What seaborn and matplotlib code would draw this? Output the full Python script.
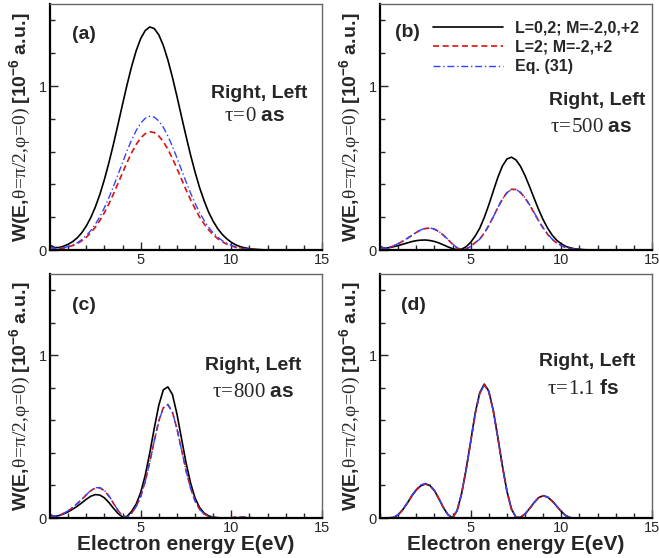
import matplotlib
matplotlib.use('Agg')
from matplotlib import pyplot as plt
from matplotlib.ticker import MultipleLocator
import seaborn as sns

# electron energy grid (eV)
energy = [0.0, 0.25, 0.5, 0.75, 1.0, 1.25, 1.5, 1.75, 2.0, 2.25, 2.5, 2.75, 3.0, 3.25, 3.5, 3.75, 4.0,
          4.25, 4.5, 4.75, 5.0, 5.25, 5.5, 5.75, 6.0, 6.25, 6.5,
          6.75, 7.0, 7.25, 7.5, 7.75, 8.0, 8.25, 8.5, 8.75, 9.0,
          9.25, 9.5, 9.75, 10.0, 10.25, 10.5, 10.75, 11.0, 11.25, 11.5, 11.75, 12.0]

# (a) tau = 0 as
a_full = [0.030, 0.015, 0.015, 0.023, 0.035, 0.051, 0.074, 0.105, 0.146, 0.198, 0.262, 0.339, 0.430, 0.533, 0.646, 0.766, 0.888,
          1.008, 1.119, 1.214, 1.289, 1.338, 1.360, 1.350, 1.312, 1.247, 1.159,
          1.054, 0.937, 0.815, 0.695, 0.580, 0.475, 0.380, 0.300, 0.230, 0.175,
          0.130, 0.095, 0.068, 0.047, 0.031, 0.020, 0.013, 0.008, 0.005, 0.003, 0.001, 0.000]
a_l2 = [0.018, 0.008, 0.008, 0.012, 0.019, 0.027, 0.039, 0.056, 0.077, 0.105, 0.139, 0.180, 0.228, 0.282, 0.342, 0.406, 0.471,
        0.534, 0.593, 0.643, 0.683, 0.709, 0.721, 0.716, 0.695, 0.661, 0.614,
        0.559, 0.497, 0.432, 0.368, 0.307, 0.252, 0.201, 0.159, 0.122, 0.093,
        0.069, 0.050, 0.036, 0.025, 0.016, 0.011, 0.007, 0.004, 0.003, 0.002, 0.001, 0.000]
a_eq = [0.022, 0.010, 0.009, 0.014, 0.021, 0.031, 0.044, 0.063, 0.088, 0.119, 0.157, 0.203, 0.258, 0.320, 0.388, 0.460, 0.533,
        0.605, 0.671, 0.728, 0.773, 0.803, 0.816, 0.810, 0.787, 0.748, 0.695,
        0.632, 0.562, 0.489, 0.417, 0.348, 0.285, 0.228, 0.180, 0.138, 0.105,
        0.078, 0.057, 0.041, 0.028, 0.019, 0.012, 0.008, 0.005, 0.003, 0.002, 0.001, 0.000]

# (b) tau = 500 as
b_full = [0.020, 0.012, 0.014, 0.020, 0.027, 0.035, 0.043, 0.051, 0.057, 0.060, 0.061, 0.058, 0.052, 0.043, 0.031, 0.019, 0.008,
          0.002, 0.005, 0.020, 0.047, 0.085, 0.133, 0.198, 0.275, 0.360, 0.443,
          0.512, 0.555, 0.566, 0.549, 0.510, 0.453, 0.386, 0.315, 0.246, 0.184,
          0.132, 0.090, 0.059, 0.037, 0.022, 0.013, 0.007, 0.004, 0.002, 0.001, 0.000, 0.000]
b_l2 = [0.015, 0.010, 0.015, 0.025, 0.038, 0.053, 0.070, 0.088, 0.107, 0.122, 0.131, 0.133, 0.127, 0.112, 0.090, 0.063, 0.036,
        0.013, 0.001, 0.006, 0.022, 0.045, 0.067, 0.103, 0.150, 0.203, 0.259,
        0.311, 0.350, 0.370, 0.369, 0.350, 0.317, 0.274, 0.226, 0.177, 0.133,
        0.095, 0.065, 0.042, 0.026, 0.015, 0.008, 0.004, 0.002, 0.001, 0.000, 0.000, 0.000]
b_eq = [0.016, 0.011, 0.016, 0.026, 0.039, 0.054, 0.071, 0.089, 0.108, 0.123, 0.132, 0.134, 0.128, 0.113, 0.091, 0.064, 0.037,
        0.014, 0.002, 0.005, 0.021, 0.044, 0.066, 0.102, 0.149, 0.202, 0.258,
        0.310, 0.349, 0.369, 0.369, 0.351, 0.318, 0.276, 0.228, 0.179, 0.135,
        0.097, 0.066, 0.043, 0.027, 0.016, 0.009, 0.005, 0.002, 0.001, 0.000, 0.000, 0.000]

# (c) tau = 800 as
c_full = [0.020, 0.010, 0.015, 0.025, 0.038, 0.054, 0.072, 0.093, 0.115, 0.134, 0.144, 0.141, 0.124, 0.095, 0.060, 0.028, 0.006,
          0.010, 0.041, 0.085, 0.156, 0.262, 0.399, 0.552, 0.693, 0.788, 0.806,
          0.760, 0.640, 0.490, 0.341, 0.216, 0.123, 0.064, 0.030, 0.013, 0.005,
          0.002, 0.000, 0.000, 0.000, 0.000, 0.000, 0.000, 0.000, 0.000, 0.000, 0.000, 0.000]
c_l2 = [0.015, 0.010, 0.016, 0.028, 0.044, 0.064, 0.088, 0.114, 0.142, 0.168, 0.184, 0.185, 0.168, 0.134, 0.090, 0.046, 0.013,
        0.004, 0.030, 0.070, 0.133, 0.225, 0.344, 0.476, 0.597, 0.678, 0.698,
        0.651, 0.550, 0.422, 0.294, 0.185, 0.105, 0.054, 0.025, 0.010, 0.004,
        0.001, 0.000, 0.000, 0.003, 0.005, 0.006, 0.005, 0.003, 0.001, 0.000, 0.000, 0.000]
c_eq = [0.016, 0.011, 0.017, 0.029, 0.045, 0.065, 0.089, 0.115, 0.143, 0.169, 0.186, 0.187, 0.170, 0.136, 0.092, 0.047, 0.014,
        0.003, 0.029, 0.069, 0.131, 0.223, 0.342, 0.474, 0.595, 0.677, 0.697,
        0.650, 0.549, 0.421, 0.293, 0.184, 0.104, 0.053, 0.024, 0.010, 0.004,
        0.001, 0.000, 0.000, 0.002, 0.004, 0.005, 0.004, 0.002, 0.001, 0.000, 0.000, 0.000]

# (d) tau = 1.1 fs
d_full = [0.000, 0.000, 0.001, 0.003, 0.020, 0.050, 0.090, 0.135, 0.172, 0.198, 0.209, 0.200, 0.168, 0.118, 0.063, 0.020, 0.001,
          0.045, 0.150, 0.300, 0.470, 0.645, 0.770, 0.823, 0.780, 0.660, 0.495,
          0.320, 0.165, 0.055, 0.004, 0.004, 0.025, 0.058, 0.095, 0.125, 0.137,
          0.128, 0.104, 0.072, 0.040, 0.014, 0.002, 0.000, 0.000, 0.000, 0.000, 0.000, 0.000]
d_l2 = [0.000, 0.000, 0.001, 0.003, 0.020, 0.050, 0.091, 0.136, 0.174, 0.200, 0.210, 0.201, 0.168, 0.118, 0.063, 0.020, 0.001,
        0.045, 0.149, 0.298, 0.467, 0.641, 0.766, 0.818, 0.776, 0.656, 0.492,
        0.318, 0.164, 0.055, 0.004, 0.004, 0.025, 0.058, 0.095, 0.125, 0.137,
        0.128, 0.104, 0.072, 0.040, 0.014, 0.002, 0.000, 0.000, 0.000, 0.000, 0.000, 0.000]
d_eq = [0.000, 0.000, 0.001, 0.004, 0.021, 0.052, 0.093, 0.139, 0.177, 0.203, 0.213, 0.204, 0.171, 0.120, 0.064, 0.021, 0.001,
        0.044, 0.148, 0.297, 0.466, 0.640, 0.765, 0.817, 0.775, 0.655, 0.491,
        0.317, 0.163, 0.055, 0.005, 0.005, 0.026, 0.059, 0.096, 0.126, 0.138,
        0.129, 0.105, 0.073, 0.041, 0.015, 0.002, 0.000, 0.000, 0.000, 0.000, 0.000, 0.000]

panel_tags = ['(a)', '(b)', '(c)', '(d)']
delays = [r'$\mathrm{\tau\!=\!0}\ \mathbf{as}$', r'$\mathrm{\tau\!=\!500}\ \mathbf{as}$',
          r'$\mathrm{\tau\!=\!800}\ \mathbf{as}$', r'$\mathrm{\tau\!=\!1.1}\ \mathbf{fs}$']
series_names = ['L=0,2; M=-2,0,+2', 'L=2; M=-2,+2', 'Eq. (31)']
ylabel = r'$\mathbf{W(E{,}}\mathrm{\theta\!=\!\pi/2{,}\varphi\!=\!0)}\ \mathbf{[10^{-6}\ a.\!u.\!]}$'
xlabel = 'Electron energy E(eV)'

sns.set_style('ticks')
plt.rcParams['font.family'] = ['Liberation Sans', 'DejaVu Sans']
plt.rcParams['mathtext.fontset'] = 'custom'
plt.rcParams['mathtext.rm'] = 'Liberation Serif'
plt.rcParams['mathtext.it'] = 'Liberation Serif:italic'
plt.rcParams['mathtext.bf'] = 'Liberation Sans:bold'

fig = plt.figure(figsize=(6.59, 5.58), dpi=100)
W, H = 659.0, 558.0
# axes boxes in pixels: left, top, right, bottom
boxes = [(50, 4, 322, 250), (380, 4, 652, 250), (50, 274, 322, 518), (380, 274, 652, 518)]
data = [(a_full, a_l2, a_eq), (b_full, b_l2, b_eq), (c_full, c_l2, c_eq), (d_full, d_l2, d_eq)]
tag_pos = [(0.125, 0.874), (0.102, 0.884), (0.123, 0.871), (0.123, 0.871)]
# text positions (axes fraction) for "Right, Left" and the delay
txt_pos = [((0.768, 0.638), (0.752, 0.545)), ((0.80, 0.606), (0.776, 0.504)),
           ((0.747, 0.627), (0.747, 0.517)), ((0.761, 0.640), (0.746, 0.530))]

for i in range(4):
    l, t, r, b = boxes[i]
    ax = fig.add_axes([l / W, 1 - b / H, (r - l) / W, (b - t) / H])
    full, l2, eq = data[i]
    sns.lineplot(x=energy, y=full, ax=ax, color='black', lw=1.2, label=series_names[0])
    sns.lineplot(x=energy, y=l2, ax=ax, color='#dd1111', lw=1.2,
                 label=series_names[1]).lines[-1].set_dashes((3.6, 2.2))
    sns.lineplot(x=energy, y=eq, ax=ax, color='#3344ff', lw=1.0,
                 label=series_names[2]).lines[-1].set_dashes((5, 2, 1, 2))
    ax.set_xlim(0, 15)
    ax.set_ylim(0, 1.5)
    ax.xaxis.set_minor_locator(MultipleLocator(1))
    ax.yaxis.set_major_locator(MultipleLocator(1))
    ax.yaxis.set_minor_locator(MultipleLocator(0.2))
    ax.set_xticks([5, 10, 15])
    ax.tick_params(which='both', direction='in', labelsize=10.5, pad=2.5, width=1)
    ax.tick_params(which='major', length=6)
    ax.tick_params(which='minor', length=3.5)
    for s in ['left', 'bottom']:
        ax.spines[s].set_linewidth(1.6)
        ax.spines[s].set_color('black')
    for s in ['top', 'right']:
        ax.spines[s].set_linewidth(1.0)
        ax.spines[s].set_color('#666666')
    ax.set_ylabel(ylabel, fontsize=14)
    ax.yaxis.set_label_coords(-0.062, 0.5)
    if i >= 2:
        ax.set_xlabel(xlabel, fontsize=15, fontweight='bold')
        ax.xaxis.set_label_coords(0.5, -0.068)
    else:
        ax.set_xlabel('')
    ax.text(tag_pos[i][0], tag_pos[i][1], panel_tags[i], transform=ax.transAxes, ha='center', va='center',
            fontsize=14, fontweight='bold')
    (x1, y1), (x2, y2) = txt_pos[i]
    ax.text(x1, y1, 'Right, Left', transform=ax.transAxes, ha='center', va='center',
            fontsize=14, fontweight='bold')
    ax.text(x2, y2, delays[i], transform=ax.transAxes, ha='center', va='center', fontsize=15)
    if i == 1:
        ax.legend(loc='upper left', bbox_to_anchor=(0.195, 0.934), frameon=False,
                  prop={'weight': 'bold', 'size': 11.5}, handlelength=4.4, handletextpad=0.75,
                  labelspacing=0.28, borderpad=0, borderaxespad=0)
    else:
        ax.get_legend().remove()

plt.savefig('out.png', dpi=100)
